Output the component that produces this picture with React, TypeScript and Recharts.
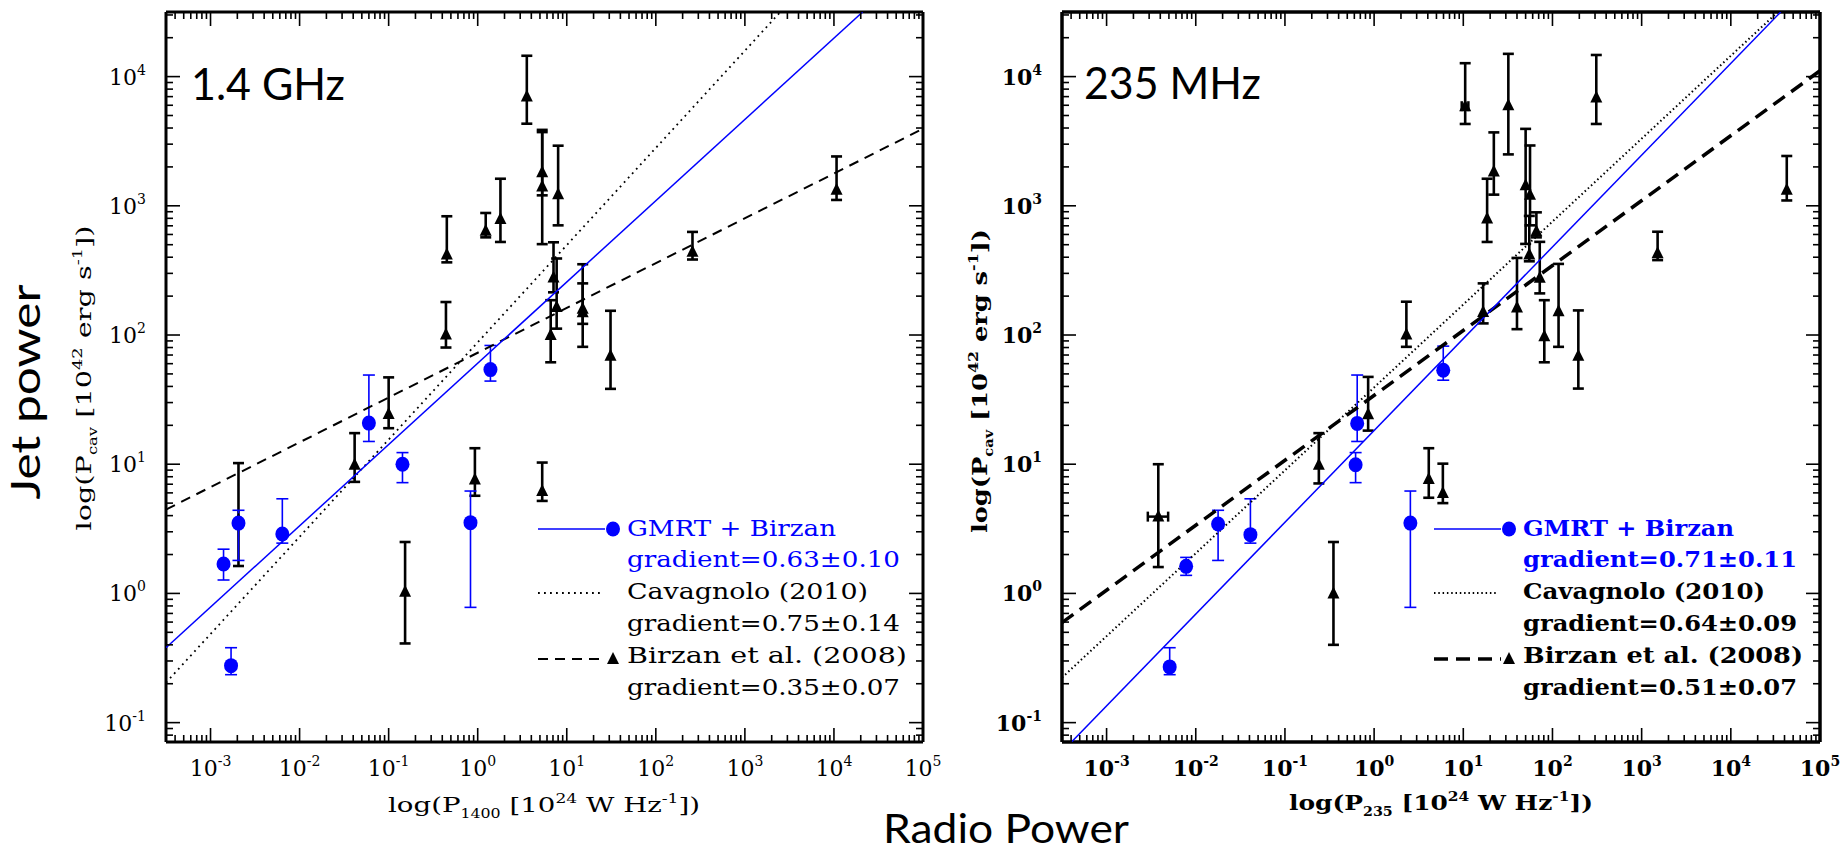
import React from 'react';
import { ScatterChart, Scatter, XAxis, YAxis, ErrorBar } from 'recharts';

// ---------- axes ----------
const X_DOMAIN: [number, number] = [3.1623e-4, 1e5];
const Y_DOMAIN: [number, number] = [0.0708, 31623];
const X_MAJOR = [1e-3, 1e-2, 1e-1, 1, 10, 100, 1e3, 1e4, 1e5];
const Y_MAJOR = [0.1, 1, 10, 100, 1e3, 1e4];
const MINOR_MULT = [2, 3, 4, 5, 6, 7, 8, 9];

// ---------- 1.4 GHz panel ----------
const gmrt14X = [0.0014, 0.00206, 0.0064, 0.0017, 0.06, 0.143, 1.39, 0.83];
const gmrt14Y = [1.69, 3.5, 2.88, 0.276, 20.8, 10.0, 54, 3.53];
const gmrt14Lo = [1.27, 1.8, 2.45, 0.235, 15, 7.2, 44, 0.78];
const gmrt14Hi = [2.2, 4.4, 5.4, 0.38, 49, 12.3, 83, 6.2];

const birzan14X = [3.56, 5.3, 5.3, 8.0, 0.45, 1.23, 1.8, 0.44, 7.1, 7.7, 6.6, 15.1, 15.1, 31, 258, 10700, 0.1, 0.00206, 0.0415, 0.153, 0.93, 5.3];
const birzan14Y = [7010, 1820, 1410, 1230, 420, 640, 790, 101, 279, 165, 100, 160, 150, 69, 440, 1330, 24.5, 3.72, 9.9, 1.03, 7.6, 6.2];
const birzan14Lo = [4320, 1205, 505, 706, 365, 570, 525, 80, 214, 112, 61.5, 122, 81, 38.3, 384, 1110, 19, 1.63, 7.3, 0.41, 5.7, 5.2];
const birzan14Hi = [14500, 3870, 3720, 2920, 830, 880, 1620, 180, 522, 391, 186, 353, 251, 154, 628, 2410, 47, 10.2, 17.4, 2.5, 13.3, 10.3];

const fitGmrt14X = [3.1623e-4, 2.1e4];
const fitGmrt14Y = [0.38, 31623];
const fitCav14X = [3.1623e-4, 2.5e3];
const fitCav14Y = [0.204, 31623];
const fitBirzan14X = [3.1623e-4, 1e5];
const fitBirzan14Y = [4.46, 3950];

// ---------- 235 MHz panel ----------
const gmrt235X = [0.0051, 0.0078, 0.0178, 0.041, 0.646, 0.62, 5.96, 2.55];
const gmrt235Y = [0.27, 1.62, 3.45, 2.85, 20.7, 9.9, 53.3, 3.5];
const gmrt235Lo = [0.235, 1.38, 1.8, 2.45, 15, 7.2, 44.7, 0.78];
const gmrt235Hi = [0.38, 1.9, 4.4, 5.4, 49, 12.3, 82, 6.2];

const birzan235X = [10.5, 32, 310, 22, 18.5, 50, 56, 66, 55, 72, 40, 16.7, 117, 81, 195, 1510, 42400, 2.3, 0.857, 0.0038, 0.24, 0.35, 4.1, 5.9];
const birzan235Y = [5900, 6000, 6900, 1840, 796, 1440, 1220, 636, 420, 277, 163, 151, 153, 98, 69, 430, 1330, 101, 24.4, 3.93, 9.9, 1.0, 7.7, 6.0];
const birzan235Lo = [4300, 2500, 4300, 1220, 525, 507, 706, 570, 372, 210, 111, 123, 81, 61.5, 38.5, 380, 1100, 81, 18.2, 1.6, 7.1, 0.4, 5.5, 5.0];
const birzan235Hi = [12700, 15000, 14700, 3700, 1620, 3940, 2930, 890, 835, 526, 395, 251, 355, 186, 155, 630, 2430, 181, 47.4, 10, 17.4, 2.5, 13.3, 10.1];
// horizontal error bars (235 MHz)
const birzan235XerrX = [10.5, 0.0038];
const birzan235XerrY = [5900, 3.93];
const birzan235XerrLo = [9.6, 0.0029];
const birzan235XerrHi = [11.4, 0.0049];

const fitGmrt235X = [4.04e-4, 3.63e4];
const fitGmrt235Y = [0.0708, 31623];
const fitCav235X = [3.1623e-4, 3.37e4];
const fitCav235Y = [0.223, 31623];
const fitBirzan235X = [3.1623e-4, 1e5];
const fitBirzan235Y = [0.594, 11100];

// ---------- helpers ----------
const SERIF = "'DejaVu Serif', serif";
const SANS = "Lato, 'Open Sans', sans-serif";
const BLUE = '#0000ff';

const mkPoints = (xs: number[], ys: number[], lo: number[], hi: number[]) =>
  xs.map((x, i) => ({ x, y: ys[i], err: [ys[i] - lo[i], hi[i] - ys[i]] }));
const mkXPoints = (xs: number[], ys: number[], lo: number[], hi: number[]) =>
  xs.map((x, i) => ({ x, y: ys[i], xerr: [x - lo[i], hi[i] - x] }));
const mkLine = (xs: number[], ys: number[]) => xs.map((x, i) => ({ x, y: ys[i] }));

function buildTicks(majors: number[], domain: [number, number]) {
  const out: number[] = [];
  const decades = [majors[0] / 10, ...majors];
  decades.forEach((d) => {
    [1, ...MINOR_MULT].forEach((m) => {
      const v = Number((d * m).toPrecision(6));
      if (v >= domain[0] && v <= domain[1] * 1.000001) out.push(v);
    });
  });
  return Array.from(new Set(out)).sort((a, b) => a - b);
}
const X_TICKS = buildTicks(X_MAJOR, X_DOMAIN);
const Y_TICKS = buildTicks(Y_MAJOR, Y_DOMAIN);
const isMajor = (v: number, majors: number[]) => majors.some((m) => Math.abs(m - v) / m < 1e-6);
const expOf = (v: number) => String(Math.round(Math.log10(v)));

const MAJ = 14;
const MIN = 7;

const TickLabel = ({ x, y, anchor, v, bold }: any) => (
  <text x={x} y={y} textAnchor={anchor} fontFamily={SERIF} fontSize={22} fontWeight={bold ? 'bold' : 'normal'} fill="#000">
    10<tspan dy={-10} fontSize={14}>{expOf(v)}</tspan>
  </text>
);

const bottomTick = (bold: boolean) => (props: any) => {
  const { x, y, payload } = props;
  const v = payload.value;
  const major = isMajor(v, X_MAJOR);
  return (
    <g>
      <line x1={x} x2={x} y1={y} y2={y - (major ? MAJ : MIN)} stroke="#000" strokeWidth={1.6} />
      {major && <TickLabel x={x} y={y + 34} anchor="middle" v={v} bold={bold} />}
    </g>
  );
};
const topTick = (props: any) => {
  const { x, y, payload } = props;
  const major = isMajor(payload.value, X_MAJOR);
  return <line x1={x} x2={x} y1={y} y2={y + (major ? MAJ : MIN)} stroke="#000" strokeWidth={1.6} />;
};
const leftTick = (bold: boolean) => (props: any) => {
  const { x, y, payload } = props;
  const v = payload.value;
  const major = isMajor(v, Y_MAJOR);
  return (
    <g>
      <line x1={x} x2={x + (major ? MAJ : MIN)} y1={y} y2={y} stroke="#000" strokeWidth={1.6} />
      {major && <TickLabel x={x - 20} y={y + 8} anchor="end" v={v} bold={bold} />}
    </g>
  );
};
const rightTick = (props: any) => {
  const { x, y, payload } = props;
  const major = isMajor(payload.value, Y_MAJOR);
  return <line x1={x} x2={x - (major ? MAJ : MIN)} y1={y} y2={y} stroke="#000" strokeWidth={1.6} />;
};

const Triangle = (p: any) =>
  p.cx == null ? <g /> : (
    <polygon points={`${p.cx},${p.cy - 7} ${p.cx - 6},${p.cy + 5} ${p.cx + 6},${p.cy + 5}`} fill="#000" />
  );
const Dot = (p: any) => (p.cx == null ? <g /> : <ellipse cx={p.cx} cy={p.cy} rx={7} ry={7.5} fill={BLUE} />);
const NoShape = () => <g />;

type PanelProps = {
  width: number;
  leftAxisWidth: number;
  marginRight: number;
  bold: boolean;
  gmrt: any[];
  birzan: any[];
  birzanX?: any[];
  fitG: any[];
  fitC: any[];
  fitB: any[];
  dashW: number;
  dash: string;
  dotW: number;
  dot: string;
  frameW: number;
};

const Panel = (p: PanelProps) => (
  <ScatterChart width={p.width} height={853} margin={{ top: 11, right: p.marginRight, bottom: 0, left: 0 }}>
    <XAxis
      xAxisId="b" dataKey="x" type="number" scale="log" domain={X_DOMAIN} allowDataOverflow
      ticks={X_TICKS} interval={0} tickSize={0} tickMargin={0} tickLine={false}
      tick={bottomTick(p.bold)} height={111} axisLine={{ stroke: '#000', strokeWidth: p.frameW }}
    />
    <XAxis
      xAxisId="t" orientation="top" dataKey="x" type="number" scale="log" domain={X_DOMAIN} allowDataOverflow
      ticks={X_TICKS} interval={0} tickSize={0} tickMargin={0} tickLine={false}
      tick={topTick} height={1} axisLine={{ stroke: '#000', strokeWidth: p.frameW }}
    />
    <YAxis
      yAxisId="l" dataKey="y" type="number" scale="log" domain={Y_DOMAIN} allowDataOverflow
      ticks={Y_TICKS} interval={0} tickSize={0} tickMargin={0} tickLine={false}
      tick={leftTick(p.bold)} width={p.leftAxisWidth} axisLine={{ stroke: '#000', strokeWidth: p.frameW }}
    />
    <YAxis
      yAxisId="r" orientation="right" dataKey="y" type="number" scale="log" domain={Y_DOMAIN} allowDataOverflow
      ticks={Y_TICKS} interval={0} tickSize={0} tickMargin={0} tickLine={false}
      tick={rightTick} width={1} axisLine={{ stroke: '#000', strokeWidth: p.frameW }}
    />
    <Scatter xAxisId="b" yAxisId="l" data={p.fitC} line={{ stroke: '#000', strokeWidth: p.dotW, strokeDasharray: p.dot }} shape={NoShape} isAnimationActive={false} />
    <Scatter xAxisId="b" yAxisId="l" data={p.fitB} line={{ stroke: '#000', strokeWidth: p.dashW, strokeDasharray: p.dash }} shape={NoShape} isAnimationActive={false} />
    <Scatter xAxisId="b" yAxisId="l" data={p.fitG} line={{ stroke: BLUE, strokeWidth: 1.5 }} shape={NoShape} isAnimationActive={false} />
    {p.birzanX && (
      <Scatter xAxisId="b" yAxisId="l" data={p.birzanX} shape={NoShape} isAnimationActive={false}>
        <ErrorBar dataKey="xerr" direction="x" width={5} stroke="#000" strokeWidth={2.5} />
      </Scatter>
    )}
    <Scatter xAxisId="b" yAxisId="l" data={p.birzan} shape={Triangle} isAnimationActive={false}>
      <ErrorBar dataKey="err" direction="y" width={5.5} stroke="#000" strokeWidth={2.6} />
    </Scatter>
    <Scatter xAxisId="b" yAxisId="l" data={p.gmrt} shape={Dot} isAnimationActive={false}>
      <ErrorBar dataKey="err" direction="y" width={6} stroke={BLUE} strokeWidth={1.6} />
    </Scatter>
  </ScatterChart>
);

const LegendBlock = ({ x0, lines, bold, dash, dashW, dot, dotW, lengths }: any) => {
  const fw = bold ? 'bold' : 'normal';
  const tx = x0 + 89;
  const base = [536, 567, 599, 631, 663, 695];
  return (
    <g fontFamily={SERIF} fontSize={23} fontWeight={fw}>
      <line x1={x0} x2={x0 + 67} y1={529} y2={529} stroke={BLUE} strokeWidth={1.5} />
      <ellipse cx={x0 + 75} cy={529} rx={7} ry={7.5} fill={BLUE} />
      <line x1={x0} x2={x0 + 64} y1={593} y2={593} stroke="#000" strokeWidth={dotW} strokeDasharray={dot} />
      <line x1={x0} x2={x0 + 67} y1={659} y2={659} stroke="#000" strokeWidth={dashW} strokeDasharray={dash} />
      <polygon points={`${x0 + 75},${652} ${x0 + 69},${664} ${x0 + 81},${664}`} fill="#000" />
      {lines.map((t: string, i: number) => (
        <text key={i} x={tx} y={base[i]} fill={i < 2 ? BLUE : '#000'} textLength={lengths[i]} lengthAdjust="spacingAndGlyphs">
          {t}
        </text>
      ))}
    </g>
  );
};

const legend14 = ['GMRT + Birzan', 'gradient=0.63±0.10', 'Cavagnolo (2010)', 'gradient=0.75±0.14', 'Birzan et al. (2008)', 'gradient=0.35±0.07'];
const legend235 = ['GMRT + Birzan', 'gradient=0.71±0.11', 'Cavagnolo (2010)', 'gradient=0.64±0.09', 'Birzan et al. (2008)', 'gradient=0.51±0.07'];
const legendLengths = [209, 273, 241, 273, 280, 273];

const YTitle = ({ cx, cy, bold, len }: any) => (
  <text transform={`translate(${cx},${cy}) rotate(-90)`} textAnchor="middle" fontFamily={SERIF} fontSize={21}
    fontWeight={bold ? 'bold' : 'normal'} fill="#000" textLength={len} lengthAdjust="spacingAndGlyphs">
    log(P<tspan dy={6} fontSize={12}>cav</tspan><tspan dy={-6}> [10</tspan><tspan dy={-9} fontSize={13}>42</tspan>
    <tspan dy={9}> erg s</tspan><tspan dy={-9} fontSize={13}>-1</tspan><tspan dy={9}>])</tspan>
  </text>
);
const XTitle = ({ cx, y, sub, bold, len }: any) => (
  <text x={cx} y={y} textAnchor="middle" fontFamily={SERIF} fontSize={21} fontWeight={bold ? 'bold' : 'normal'}
    fill="#000" textLength={len} lengthAdjust="spacingAndGlyphs">
    log(P<tspan dy={6} fontSize={12}>{sub}</tspan><tspan dy={-6}> [10</tspan><tspan dy={-9} fontSize={13}>24</tspan>
    <tspan dy={9}> W Hz</tspan><tspan dy={-9} fontSize={13}>-1</tspan><tspan dy={9}>])</tspan>
  </text>
);

export default function App() {
  const gmrt14 = mkPoints(gmrt14X, gmrt14Y, gmrt14Lo, gmrt14Hi);
  const birzan14 = mkPoints(birzan14X, birzan14Y, birzan14Lo, birzan14Hi);
  const gmrt235 = mkPoints(gmrt235X, gmrt235Y, gmrt235Lo, gmrt235Hi);
  const birzan235 = mkPoints(birzan235X, birzan235Y, birzan235Lo, birzan235Hi);
  const birzan235x = mkXPoints(birzan235XerrX, birzan235XerrY, birzan235XerrLo, birzan235XerrHi);

  return (
    <div style={{ position: 'absolute', left: 0, top: 0, width: 1845, height: 853, background: '#fff', overflow: 'hidden' }}>
      <div style={{ position: 'absolute', left: 0, top: 0 }}>
        <Panel width={960} leftAxisWidth={166} marginRight={36} bold={false}
          gmrt={gmrt14} birzan={birzan14}
          fitG={mkLine(fitGmrt14X, fitGmrt14Y)} fitC={mkLine(fitCav14X, fitCav14Y)} fitB={mkLine(fitBirzan14X, fitBirzan14Y)}
          dashW={2} dash="10 7" dotW={1.8} dot="1.8 4.2" frameW={3} />
      </div>
      <div style={{ position: 'absolute', left: 960, top: 0 }}>
        <Panel width={885} leftAxisWidth={102} marginRight={24} bold={true}
          gmrt={gmrt235} birzan={birzan235} birzanX={birzan235x}
          fitG={mkLine(fitGmrt235X, fitGmrt235Y)} fitC={mkLine(fitCav235X, fitCav235Y)} fitB={mkLine(fitBirzan235X, fitBirzan235Y)}
          dashW={3.5} dash="14 8" dotW={2} dot="1.5 2.8" frameW={3.5} />
      </div>
      <svg width={1845} height={853} style={{ position: 'absolute', left: 0, top: 0, pointerEvents: 'none' }}>
        <text x={191} y={100} fontFamily={SANS} fontSize={45} fill="#000" textLength={154} lengthAdjust="spacingAndGlyphs">1.4 GHz</text>
        <text x={1084} y={99} fontFamily={SANS} fontSize={45} fill="#000" textLength={177} lengthAdjust="spacingAndGlyphs">235 MHz</text>
        <LegendBlock x0={538} lines={legend14} bold={false} dash="10 7" dashW={2} dot="1.8 4.2" dotW={1.8} lengths={legendLengths} />
        <LegendBlock x0={1434} lines={legend235} bold={true} dash="14 8" dashW={3.5} dot="1.5 2.8" dotW={2} lengths={[211, 274, 242, 274, 280, 274]} />
        <YTitle cx={91} cy={378} bold={false} len={305} />
        <YTitle cx={987} cy={381} bold={true} len={304} />
        <XTitle cx={544} y={812} sub="1400" bold={false} len={312} />
        <XTitle cx={1441} y={810} sub="235" bold={true} len={304} />
        <text transform="translate(40,392) rotate(-90)" textAnchor="middle" fontFamily={SANS} fontSize={40} fill="#000" textLength={215} lengthAdjust="spacingAndGlyphs">Jet power</text>
        <text x={1006} y={843} textAnchor="middle" fontFamily={SANS} fontSize={40} fill="#000" textLength={246} lengthAdjust="spacingAndGlyphs">Radio Power</text>
      </svg>
    </div>
  );
}
